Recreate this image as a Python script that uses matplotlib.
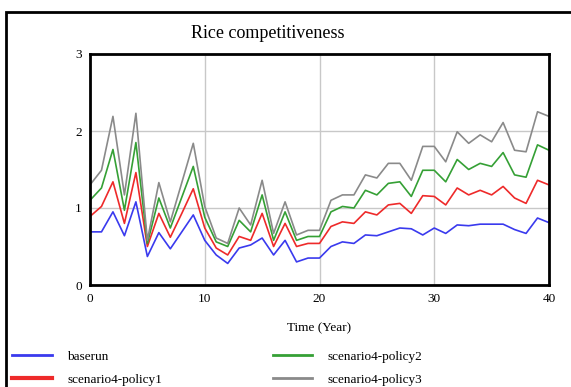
import matplotlib.pyplot as plt
from matplotlib.patches import Rectangle
import numpy as np

years = np.arange(0, 41)

baserun = [0.69, 0.69, 0.95, 0.64, 1.08, 0.37, 0.68, 0.47, 0.69, 0.91,
           0.58, 0.39, 0.28, 0.48, 0.52, 0.61, 0.39, 0.58, 0.30, 0.35,
           0.35, 0.50, 0.56, 0.54, 0.65, 0.64, 0.69, 0.74, 0.73, 0.65,
           0.74, 0.67, 0.78, 0.77, 0.79, 0.79, 0.79, 0.72, 0.67, 0.87,
           0.81]
policy1 = [0.89, 1.02, 1.34, 0.80, 1.46, 0.50, 0.93, 0.62, 0.93, 1.25,
           0.74, 0.48, 0.39, 0.63, 0.58, 0.93, 0.50, 0.80, 0.50, 0.54,
           0.54, 0.76, 0.82, 0.80, 0.95, 0.91, 1.04, 1.06, 0.93, 1.16,
           1.15, 1.04, 1.26, 1.17, 1.23, 1.17, 1.28, 1.13, 1.06, 1.36,
           1.30]
policy2 = [1.10, 1.26, 1.76, 0.97, 1.85, 0.54, 1.13, 0.74, 1.14, 1.54,
           0.88, 0.56, 0.50, 0.84, 0.69, 1.17, 0.58, 0.95, 0.58, 0.63,
           0.63, 0.95, 1.02, 1.00, 1.23, 1.17, 1.32, 1.34, 1.15, 1.49,
           1.49, 1.34, 1.63, 1.50, 1.58, 1.54, 1.72, 1.43, 1.40, 1.82,
           1.75]
policy3 = [1.30, 1.49, 2.19, 1.17, 2.23, 0.58, 1.33, 0.82, 1.33, 1.84,
           1.02, 0.61, 0.54, 1.00, 0.78, 1.36, 0.67, 1.08, 0.65, 0.71,
           0.71, 1.10, 1.17, 1.17, 1.43, 1.39, 1.58, 1.58, 1.36, 1.80,
           1.80, 1.60, 1.99, 1.84, 1.95, 1.86, 2.11, 1.75, 1.73, 2.25,
           2.19]

series = [
    ("baserun", baserun, "#3a3aee"),
    ("scenario4-policy1", policy1, "#ee2a2a"),
    ("scenario4-policy2", policy2, "#35a035"),
    ("scenario4-policy3", policy3, "#8a8a8a"),
]

plt.rcParams['font.family'] = ['Liberation Serif', 'DejaVu Serif']

fig = plt.figure(figsize=(5.71, 3.87), dpi=100)
ax = fig.add_axes([90 / 571, 102 / 387, 459 / 571, 231 / 387])

handles = []
for name, vals, col in series:
    h, = ax.plot(years, vals, color=col, lw=1.2, label=name)
    handles.append(h)

ax.set_xlim(0, 40)
ax.set_ylim(0, 3)
ax.set_xticks([0, 10, 20, 30, 40])
ax.set_yticks([0, 1, 2, 3])
ax.tick_params(length=0, labelsize=9.5, pad=6)
ax.grid(True, color="#c8c8c8", lw=1)
ax.set_axisbelow(True)
for sp in ax.spines.values():
    sp.set_linewidth(2)
    sp.set_color("black")

ax.set_xlabel("Time (Year)", fontsize=9.5, labelpad=12)
fig.text(268 / 571, 1 - 33 / 387, "Rice competitiveness", ha="center",
         va="center", fontsize=13)

# outer frame of the Vensim window
fig.patches.append(Rectangle((6 / 571, -0.1), 1.2, 1 - 12 / 387 + 0.1,
                             transform=fig.transFigure, fill=False,
                             edgecolor="black", lw=2))

leg = fig.legend(handles=handles, ncol=2, loc="upper left",
                 bbox_to_anchor=(7 / 571, 1 - 345 / 387), frameon=False,
                 fontsize=9.5, handlelength=3.0, handletextpad=1.15,
                 columnspacing=8.4, labelspacing=0.85, borderaxespad=0)
for lh in leg.legend_handles:
    lh.set_linewidth(2)
leg.legend_handles[1].set_linewidth(3)

fig.savefig("out.png", dpi=100)
